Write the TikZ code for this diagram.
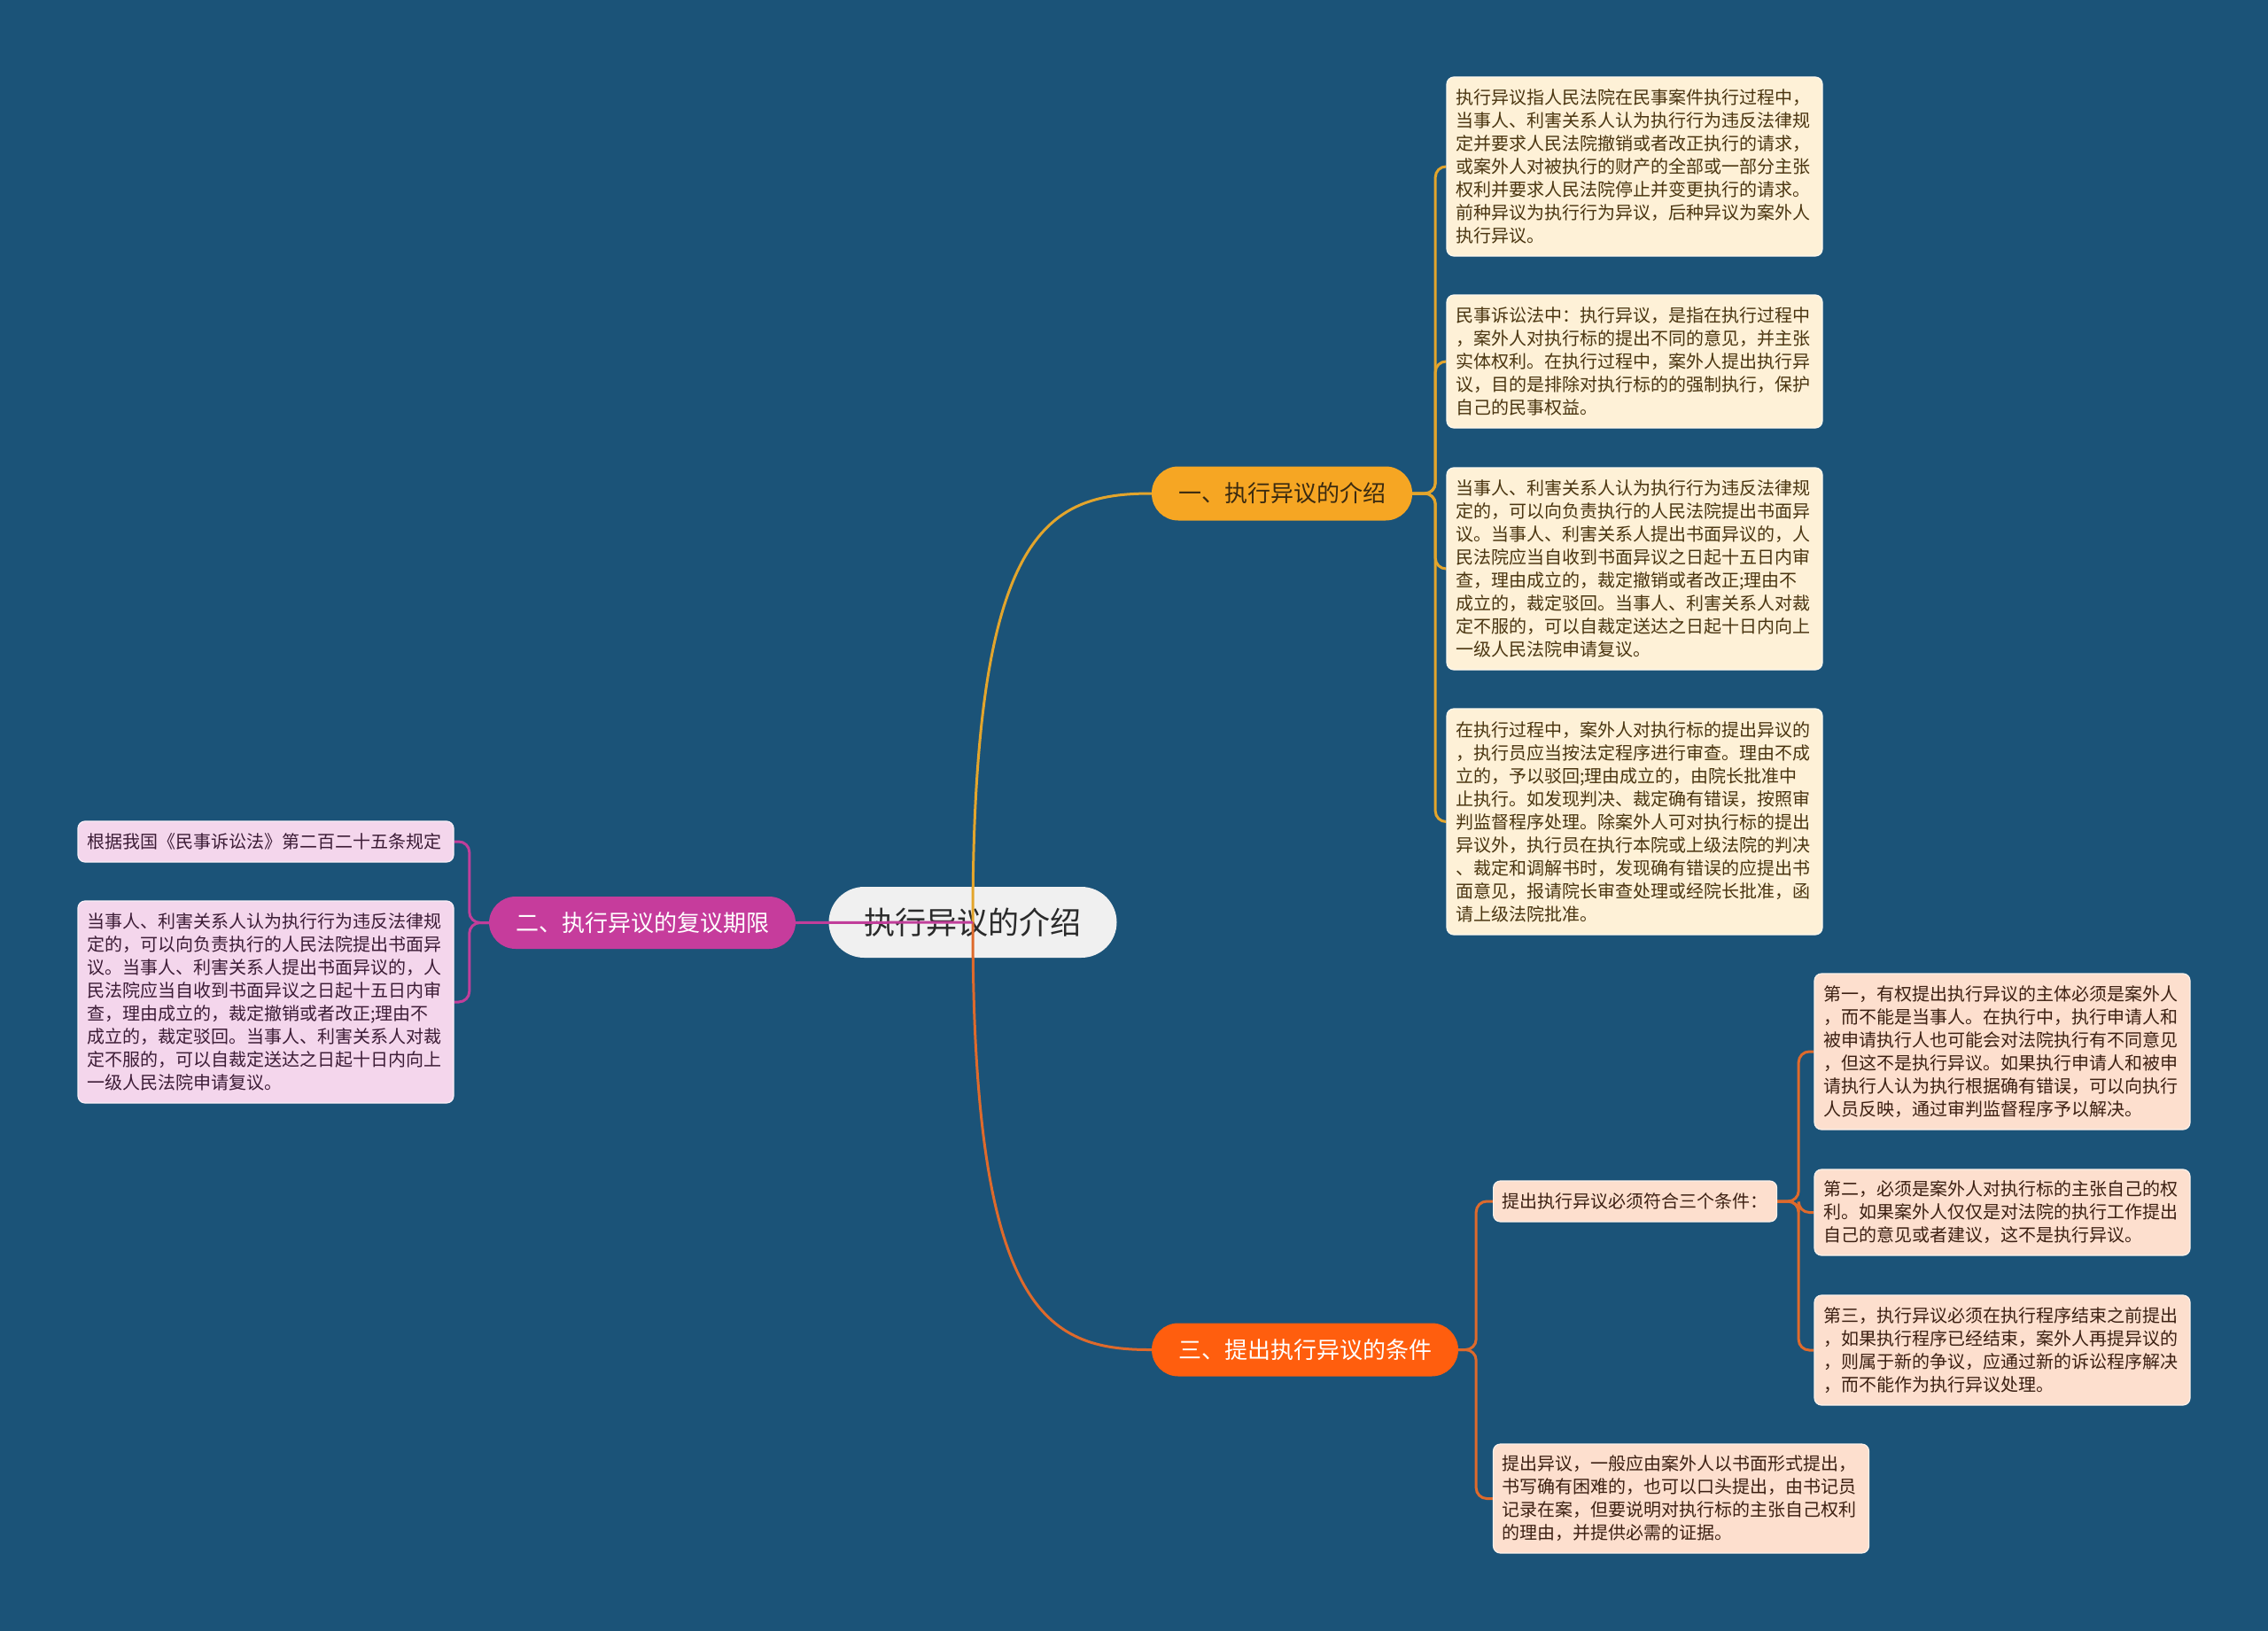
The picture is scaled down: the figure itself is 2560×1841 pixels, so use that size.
\documentclass[tikz,border=0pt]{standalone}
\usepackage{fontspec}
\setmainfont{Noto Sans CJK SC}
\definecolor{bgc}{HTML}{1B5378}
\definecolor{rootfill}{HTML}{F0F0F0}
\definecolor{roottext}{HTML}{2A2A2A}
\definecolor{yfill}{HTML}{F6A623}
\definecolor{ytext}{HTML}{3A2A10}
\definecolor{yline}{HTML}{E3A52C}
\definecolor{yleaf}{HTML}{FEF1D7}
\definecolor{yleaftext}{HTML}{4A3510}
\definecolor{mfill}{HTML}{C63C9C}
\definecolor{mline}{HTML}{C13E9A}
\definecolor{mleaf}{HTML}{F4D6EC}
\definecolor{mleaftext}{HTML}{3C1C36}
\definecolor{ofill}{HTML}{FF5E0E}
\definecolor{oline}{HTML}{DE6A2C}
\definecolor{oleaf}{HTML}{FDDFCE}
\definecolor{oleaftext}{HTML}{3C2012}
\pgfdeclarelayer{rootlayer}
\pgfdeclarelayer{edges}
\pgfsetlayers{rootlayer,edges,main}
\tikzset{
  pill/.style={rectangle, rounded corners=30pt, inner sep=0pt, align=center,
    font=\fontsize{26}{30}\selectfont},
  leafbox/.style={rectangle, rounded corners=8pt, inner xsep=10pt, inner ysep=0pt,
    align=left, line width=1.2pt, font=\fontsize{20}{26}\selectfont},
  wide/.style={leafbox, text width=404pt},
  yl/.style={fill=yleaf, draw=white!60!yleaf, text=yleaftext},
  ol/.style={fill=oleaf, draw=white!60!oleaf, text=oleaftext},
  ml/.style={fill=mleaf, draw=white!60!mleaf, text=mleaftext},
  edgey/.style={draw=yline, line width=3pt, rounded corners=12pt},
  edgeo/.style={draw=oline, line width=3pt, rounded corners=12pt},
  edgem/.style={draw=mline, line width=3pt, rounded corners=12pt},
}
\begin{document}
\begin{tikzpicture}[x=1pt,y=1pt]
\begin{pgfonlayer}{rootlayer}
\fill[bgc] (0,0) rectangle (2560,-1841);
\node[rectangle, rounded corners=40pt, fill=rootfill, text=roottext,
  minimum width=325pt, minimum height=80pt, inner sep=0pt,
  font=\fontsize{35}{40}\selectfont] (root) at (1098,-1041) {执行异议的介绍};
\end{pgfonlayer}
\useasboundingbox (0,0) rectangle (2560,-1841);

% branches
\node[pill, fill=yfill, text=ytext, minimum width=294pt, minimum height=61pt] (b1) at (1447,-557) {一、执行异议的介绍};
\node[pill, fill=mfill, text=white, minimum width=346pt, minimum height=59pt] (b2) at (725,-1041.5) {二、执行异议的复议期限};
\node[pill, fill=ofill, text=white, minimum width=346pt, minimum height=60pt] (b3) at (1473,-1523.5) {三、提出执行异议的条件};

% branch 1 leaves
\node[wide, yl, minimum height=202pt] (a1) at (1845,-188) {执行异议指人民法院在民事案件执行过程中，\\当事人、利害关系人认为执行行为违反法律规\\定并要求人民法院撤销或者改正执行的请求，\\或案外人对被执行的财产的全部或一部分主张\\权利并要求人民法院停止并变更执行的请求。\\前种异议为执行行为异议，后种异议为案外人\\执行异议。};
\node[wide, yl, minimum height=150pt] (a2) at (1845,-408) {民事诉讼法中：执行异议，是指在执行过程中\\，案外人对执行标的提出不同的意见，并主张\\实体权利。在执行过程中，案外人提出执行异\\议，目的是排除对执行标的的强制执行，保护\\自己的民事权益。};
\node[wide, yl, minimum height=228pt] (a3) at (1845,-642) {当事人、利害关系人认为执行行为违反法律规\\定的，可以向负责执行的人民法院提出书面异\\议。当事人、利害关系人提出书面异议的，人\\民法院应当自收到书面异议之日起十五日内审\\查，理由成立的，裁定撤销或者改正;理由不\\成立的，裁定驳回。当事人、利害关系人对裁\\定不服的，可以自裁定送达之日起十日内向上\\一级人民法院申请复议。};
\node[wide, yl, minimum height=255pt] (a4) at (1845,-927.5) {在执行过程中，案外人对执行标的提出异议的\\，执行员应当按法定程序进行审查。理由不成\\立的，予以驳回;理由成立的，由院长批准中\\止执行。如发现判决、裁定确有错误，按照审\\判监督程序处理。除案外人可对执行标的提出\\异议外，执行员在执行本院或上级法院的判决\\、裁定和调解书时，发现确有错误的应提出书\\面意见，报请院长审查处理或经院长批准，函\\请上级法院批准。};

% branch 3 leaves
\node[leafbox, ol, minimum height=46pt, anchor=west] (c0) at (1685,-1356) {提出执行异议必须符合三个条件：};
\node[wide, ol, minimum height=123pt] (c4) at (1897.5,-1691.5) {提出异议，一般应由案外人以书面形式提出，\\书写确有困难的，也可以口头提出，由书记员\\记录在案，但要说明对执行标的主张自己权利\\的理由，并提供必需的证据。};
\node[wide, ol, minimum height=176pt] (c1) at (2260,-1187) {第一，有权提出执行异议的主体必须是案外人\\，而不能是当事人。在执行中，执行申请人和\\被申请执行人也可能会对法院执行有不同意见\\，但这不是执行异议。如果执行申请人和被申\\请执行人认为执行根据确有错误，可以向执行\\人员反映，通过审判监督程序予以解决。};
\node[wide, ol, minimum height=97pt] (c2) at (2260,-1368.5) {第二，必须是案外人对执行标的主张自己的权\\利。如果案外人仅仅是对法院的执行工作提出\\自己的意见或者建议，这不是执行异议。};
\node[wide, ol, minimum height=124pt] (c3) at (2260,-1524) {第三，执行异议必须在执行程序结束之前提出\\，如果执行程序已经结束，案外人再提异议的\\，则属于新的争议，应通过新的诉讼程序解决\\，而不能作为执行异议处理。};

% branch 2 leaves
\node[wide, ml, minimum height=46pt] (l1) at (300,-950) {根据我国《民事诉讼法》第二百二十五条规定};
\node[wide, ml, minimum height=228pt] (l2) at (300,-1131) {当事人、利害关系人认为执行行为违反法律规\\定的，可以向负责执行的人民法院提出书面异\\议。当事人、利害关系人提出书面异议的，人\\民法院应当自收到书面异议之日起十五日内审\\查，理由成立的，裁定撤销或者改正;理由不\\成立的，裁定驳回。当事人、利害关系人对裁\\定不服的，可以自裁定送达之日起十日内向上\\一级人民法院申请复议。};

\begin{pgfonlayer}{edges}
\draw[draw=yline, line width=3pt] (root.center) .. controls (1098,-600) and (1180,-557) .. (b1.west);
\draw[draw=oline, line width=3pt] (root.center) .. controls (1098,-1480) and (1180,-1524) .. (b3.west);
\draw[draw=mline, line width=3pt] (root.center) -- (b2.east);
\foreach \t in {a1,a2,a3,a4} \draw[edgey] (b1.east) -- ++(26,0) |- (\t.west);
\foreach \t in {c0,c4} \draw[edgeo] (b3.east) -- ++(20,0) |- (\t.west);
\foreach \t in {c1,c2,c3} \draw[edgeo] (c0.east) -- ++(24,0) |- (\t.west);
\foreach \t in {l1,l2} \draw[edgem] (b2.west) -- ++(-22,0) |- (\t.east);
\end{pgfonlayer}
\end{tikzpicture}
\end{document}
